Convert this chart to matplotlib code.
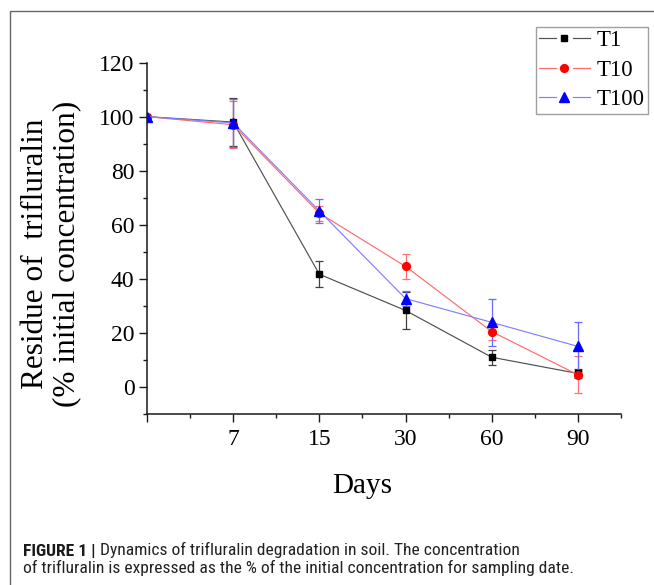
import matplotlib
matplotlib.use('Agg')
import matplotlib.pyplot as plt
import numpy as np
from matplotlib.patches import Rectangle
from matplotlib.ticker import FixedLocator
from matplotlib.legend_handler import HandlerBase
from matplotlib.lines import Line2D
from matplotlib import font_manager as fm
import matplotlib.transforms as mtransforms

# ---------------- data ----------------
days = [0, 7, 15, 30, 60, 90]
tick_labels = ['', '7', '15', '30', '60', '90']
series_names = ['T1', 'T10', 'T100']
t1_mean = [100, 98.0, 41.7, 28.3, 11.0, 5.0]
t1_err = [0, 9.0, 4.8, 6.9, 2.8, 1.5]
t10_mean = [100, 97.0, 64.3, 44.6, 20.5, 4.5]
t10_err = [0, 8.7, 2.8, 4.7, 3.0, 6.8]
t100_mean = [100, 97.7, 65.1, 32.7, 23.9, 15.0]
t100_err = [0, 9.0, 4.6, 2.9, 8.8, 9.2]

y_label = "Residue of  trifluralin\n(% initial concentration)"
x_label = "Days"
caption_bold = "FIGURE 1 |"
caption_line1 = "Dynamics of trifluralin degradation in soil. The concentration"
caption_line2 = "of trifluralin is expressed as the % of the initial concentration for sampling date."

plt.rcParams['font.family'] = ['Liberation Serif', 'DejaVu Serif']

W, H = 654, 585
fig = plt.figure(figsize=(W / 100, H / 100), dpi=100)
ax = fig.add_axes([147 / W, 1 - 414 / H, (621 - 147) / W, (414 - 62.6) / H])

x = np.arange(len(days))

styles = [
    dict(marker='s', ms=4.6, line='#505050', face='black', err='#404040'),
    dict(marker='o', ms=5.6, line='#ff6a6a', face='#ff0000', err='#ff7070'),
    dict(marker='^', ms=7.0, line='#8080ff', face='#0000ff', err='#6a6aff'),
]
means = [t1_mean, t10_mean, t100_mean]
errs = [t1_err, t10_err, t100_err]

handles = []
for name, m, e, st in zip(series_names, means, errs, styles):
    m = np.asarray(m, float)
    e = np.asarray(e, float)
    mask = e > 0
    ax.errorbar(x[mask], m[mask], yerr=e[mask], fmt='none', ecolor=st['err'],
                elinewidth=0.9, capsize=3.2, capthick=0.9, zorder=2)
    h, = ax.plot(x, m, '-', color=st['line'], lw=0.85, marker=st['marker'],
                 ms=st['ms'], mfc=st['face'], mec=st['face'], label=name, zorder=3)
    handles.append(h)

ax.set_xlim(0, 5.5)
ax.set_ylim(-10, 120)
ax.xaxis.set_major_locator(FixedLocator(x))
ax.set_xticklabels(tick_labels)
ax.xaxis.set_minor_locator(FixedLocator(x + 0.5))
ax.yaxis.set_major_locator(FixedLocator(np.arange(0, 121, 20)))
ax.yaxis.set_minor_locator(FixedLocator(np.arange(-10, 111, 20)))

for s in ['top', 'right']:
    ax.spines[s].set_visible(False)
for s in ['left', 'bottom']:
    ax.spines[s].set_linewidth(1.1)
    ax.spines[s].set_color('#1a1a1a')
ax.tick_params(which='major', direction='out', length=6, width=1.0, color='#1a1a1a',
               labelsize=17, pad=3)
ax.tick_params(which='minor', direction='out', length=3.2, width=1.0, color='#1a1a1a')
ax.tick_params(axis='x', which='major', pad=4.5)
ax.patch.set_visible(False)

# axis titles
fig.text(51 / W, 1 - 254 / H, y_label, rotation=90, ha='center', va='center',
         multialignment='center', fontsize=22.5, linespacing=1.12)
trans = mtransforms.blended_transform_factory(ax.transData, fig.transFigure)
ax.text(2.5, 1 - 493 / H, x_label, transform=trans, ha='center', va='baseline',
        fontsize=21)


# legend: line - gap - marker - gap - line (Origin style)
class GapHandler(HandlerBase):
    def create_artists(self, legend, orig, xd, yd, width, height, fontsize, trans):
        y = (height - yd) / 2
        x0, x1 = -xd, -xd + width
        xc = (x0 + x1) / 2
        gap = 0.17 * width
        arts = []
        for a, b in [(x0, xc - gap), (xc + gap, x1)]:
            ln = Line2D([a, b], [y, y], color=orig.get_color(), lw=orig.get_linewidth())
            ln.set_transform(trans)
            arts.append(ln)
        mk = Line2D([xc], [y], ls='none', marker=orig.get_marker(),
                    ms=orig.get_markersize(), mfc=orig.get_markerfacecolor(),
                    mec=orig.get_markeredgecolor())
        mk.set_transform(trans)
        arts.append(mk)
        return arts


leg = fig.legend(handles=handles, labels=series_names, loc='upper right',
                 bbox_to_anchor=(648 / W, 1 - 27 / H), borderaxespad=0,
                 fontsize=16.5, frameon=True, fancybox=False, handlelength=2.2,
                 handletextpad=0.3, labelspacing=0.36, borderpad=0.15,
                 handler_map={Line2D: GapHandler()})
leg.get_frame().set_edgecolor('#888888')
leg.get_frame().set_linewidth(1.0)

# figure border
fig.patches.append(Rectangle((9.5 / W, -1), 2, 1 - 10.7 / H + 1, transform=fig.transFigure,
                             fill=False, ec='#666666', lw=1.0))


# caption font: prefer a condensed sans-serif if one is installed
def is_narrow(f):
    st = f.stretch
    if isinstance(st, str):
        narrow = st in ('condensed', 'semi-condensed', 'extra-condensed', 'ultra-condensed')
    else:
        narrow = st < 500
    return narrow or 'Narrow' in f.name or 'Condensed' in f.name


def wnum(w):
    if isinstance(w, str):
        return {'normal': 400, 'regular': 400, 'bold': 700, 'light': 300}.get(w, 400)
    return w


pref = ['Roboto Condensed', 'Liberation Sans Narrow', 'Open Sans Condensed', 'Noto Sans',
        'Open Sans', 'DejaVu Sans', 'Roboto', 'Lato', 'Inter']
narrow = [f for f in fm.fontManager.ttflist if is_narrow(f) and f.style == 'normal']
reg_path, bold_path = None, None
for p in pref:
    fams = [f for f in narrow if f.name == p]
    if fams:
        regs = sorted(fams, key=lambda f: abs(wnum(f.weight) - 400))
        bolds = sorted(fams, key=lambda f: abs(wnum(f.weight) - 700))
        reg_path, bold_path = regs[0].fname, bolds[0].fname
        break


def cap_props(bold=False):
    if reg_path is not None:
        return fm.FontProperties(fname=bold_path if bold else reg_path)
    return fm.FontProperties(family=['Roboto', 'DejaVu Sans'],
                             weight='bold' if bold else 'normal')


renderer = fig.canvas.get_renderer()
fs = 12.6
base1, base2 = 555.5, 573.0
t2 = fig.text(23.3 / W, 1 - base2 / H, caption_line2, fontproperties=cap_props(),
              color='#222222', va='baseline', ha='left')
t2.set_fontsize(fs)
tb = fig.text(23.3 / W, 1 - base1 / H, caption_bold, fontproperties=cap_props(True),
              color='#1a1a1a', va='baseline', ha='left')
tb.set_fontsize(fs)
bw = tb.get_window_extent(renderer=renderer).x1
t1 = fig.text((bw + 4) / W, 1 - base1 / H, caption_line1, fontproperties=cap_props(),
              color='#222222', va='baseline', ha='left')
t1.set_fontsize(fs)

fig.savefig('out.png', dpi=100)
